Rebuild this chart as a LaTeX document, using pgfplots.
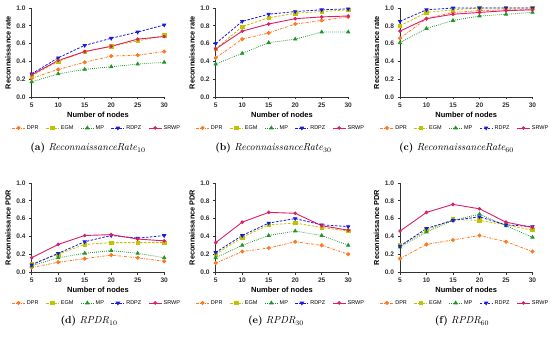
\documentclass[border=0pt]{standalone}
\usepackage{pgfplots}
\pgfplotsset{compat=1.18}
\usepackage{pgfplotstable}
\usepackage{fontspec}
\newfontfamily\arialf{Liberation Sans}
\definecolor{dprc}{RGB}{255,120,30}
\definecolor{egmc}{RGB}{192,196,0}
\definecolor{mpc}{RGB}{30,150,40}
\definecolor{rdpzc}{RGB}{25,25,230}
\definecolor{srwpc}{RGB}{222,28,105}
\definecolor{axc}{RGB}{50,50,50}

\pgfplotstableread{
x DPR EGM MP RDPZ SRWP
5 0.21 0.24 0.17 0.26 0.25
10 0.31 0.40 0.26 0.44 0.41
15 0.39 0.51 0.31 0.58 0.51
20 0.46 0.57 0.34 0.66 0.57
25 0.47 0.63 0.37 0.73 0.65
30 0.51 0.69 0.39 0.81 0.68
}\tA
\pgfplotstableread{
x DPR EGM MP RDPZ SRWP
5 0.44 0.54 0.37 0.60 0.54
10 0.65 0.79 0.49 0.85 0.74
15 0.72 0.89 0.61 0.93 0.82
20 0.82 0.94 0.65 0.96 0.88
25 0.86 0.96 0.73 0.98 0.90
30 0.90 0.98 0.73 0.99 0.91
}\tB
\pgfplotstableread{
x DPR EGM MP RDPZ SRWP
5 0.66 0.80 0.61 0.85 0.74
10 0.88 0.95 0.77 0.98 0.88
15 0.95 0.98 0.86 1.00 0.93
20 0.97 1.00 0.91 1.00 0.95
25 0.98 1.00 0.93 1.00 0.97
30 0.98 1.00 0.95 1.00 0.98
}\tC
\pgfplotstableread{
x DPR EGM MP RDPZ SRWP
5 0.05 0.09 0.07 0.08 0.16
10 0.11 0.20 0.16 0.21 0.31
15 0.15 0.31 0.21 0.34 0.41
20 0.19 0.33 0.24 0.41 0.42
25 0.16 0.33 0.21 0.38 0.37
30 0.12 0.33 0.16 0.41 0.35
}\tD
\pgfplotstableread{
x DPR EGM MP RDPZ SRWP
5 0.10 0.20 0.16 0.22 0.33
10 0.23 0.39 0.30 0.41 0.56
15 0.27 0.53 0.41 0.55 0.67
20 0.34 0.55 0.46 0.60 0.66
25 0.30 0.50 0.41 0.53 0.52
30 0.20 0.46 0.30 0.51 0.47
}\tE
\pgfplotstableread{
x DPR EGM MP RDPZ SRWP
5 0.15 0.30 0.28 0.29 0.46
10 0.31 0.47 0.45 0.49 0.67
15 0.36 0.59 0.58 0.58 0.76
20 0.41 0.58 0.65 0.62 0.71
25 0.34 0.53 0.52 0.53 0.56
30 0.23 0.47 0.39 0.51 0.50
}\tF

\pgfplotsset{
  panel/.style={
    width=132.5pt, height=89pt, scale only axis,
    xmin=5, xmax=30, ymin=0, ymax=1,
    axis x line*=bottom, axis y line*=left,
    axis line style={axc, line width=0.9pt},
    tick style={axc, line width=0.8pt},
    tick align=outside, major tick length=2.5pt,
    xtick={5,10,15,20,25,30}, ytick={0,0.2,0.4,0.6,0.8,1.0},
    /pgf/number format/assume math mode=true,
    yticklabel style={/pgf/number format/.cd, fixed, fixed zerofill, precision=1},
    ticklabel style={font=\arialf\bfseries\fontsize{6.6}{7.5}\selectfont, text=axc},
    xticklabel style={yshift=0.5pt},
    xlabel={Number of nodes},
    xlabel style={font=\arialf\bfseries\fontsize{7.5}{8.5}\selectfont, at={(axis description cs:0.5,-0.2)}, anchor=center},
    ylabel style={font=\arialf\bfseries\fontsize{7.3}{8.5}\selectfont, at={(axis description cs:-0.178,0.5)}, anchor=center},
    legend style={at={(axis description cs:0.49,-0.348)}, anchor=center, draw=none, fill=none,
      legend columns=5, font=\arialf\fontsize{5.5}{6.5}\selectfont,
      /tikz/every even column/.append style={column sep=5.5pt},
      inner sep=0pt, nodes={inner sep=1.5pt}},
    legend image code/.code={\draw[mark repeat=2,mark phase=2] plot coordinates {(0pt,0pt)(6.5pt,0pt)(13pt,0pt)};},
    clip=false,
  },
  dpr/.style={color=dprc, line width=0.8pt, dash pattern=on 2.5pt off 1.2pt on 0.6pt off 1.2pt, mark=*, mark size=1.6pt, mark options={solid}},
  egm/.style={color=egmc, line width=0.8pt, dash pattern=on 2.5pt off 1.5pt, mark=square*, mark size=1.7pt, mark options={solid}},
  mp/.style={color=mpc, line width=0.8pt, dash pattern=on 0.8pt off 1.2pt, mark=triangle*, mark size=1.8pt, mark options={solid}},
  rdpz/.style={color=rdpzc, line width=0.8pt, dash pattern=on 2.5pt off 1.5pt, mark=triangle*, mark size=1.8pt, mark options={solid, rotate=180}},
  srwp/.style={color=srwpc, line width=0.9pt, mark=*, mark size=1.3pt},
}

\newcommand{\series}[1]{%
  \addplot[dpr] table[x=x,y=DPR] {#1};
  \addplot[egm] table[x=x,y=EGM] {#1};
  \addplot[mp] table[x=x,y=MP] {#1};
  \addplot[rdpz] table[x=x,y=RDPZ] {#1};
  \addplot[srwp] table[x=x,y=SRWP] {#1};
  \legend{DPR,EGM,MP,RDPZ,SRWP}
}

\begin{document}
\begin{tikzpicture}
\begin{axis}[panel, at={(31.7pt,241pt)}, anchor=south west, ylabel={Reconnaissance rate}]
\series{\tA}
\end{axis}
\begin{axis}[panel, at={(215.7pt,241pt)}, anchor=south west, ylabel={Reconnaissance rate}]
\series{\tB}
\end{axis}
\begin{axis}[panel, at={(400pt,241pt)}, anchor=south west, ylabel={Reconnaissance rate}]
\series{\tC}
\end{axis}
\begin{axis}[panel, at={(31.7pt,66pt)}, anchor=south west, ylabel={Reconnaissance PDR}]
\series{\tD}
\end{axis}
\begin{axis}[panel, at={(215.7pt,66pt)}, anchor=south west, ylabel={Reconnaissance PDR}]
\series{\tE}
\end{axis}
\begin{axis}[panel, at={(400pt,66pt)}, anchor=south west, ylabel={Reconnaissance PDR}]
\series{\tF}
\end{axis}
\tikzset{capt/.style={font=\fontsize{10.2}{12}\selectfont}}
\node[capt] at (88pt,190pt) {\textbf{(a)} \textit{ReconnaissanceRate}$_{10}$};
\node[capt] at (273.5pt,190pt) {\textbf{(b)} \textit{ReconnaissanceRate}$_{30}$};
\node[capt] at (456.5pt,190pt) {\textbf{(c)} \textit{ReconnaissanceRate}$_{60}$};
\node[capt] at (89pt,17pt) {\textbf{(d)} \textit{RPDR}$_{10}$};
\node[capt] at (276pt,17pt) {\textbf{(e)} \textit{RPDR}$_{30}$};
\node[capt] at (462pt,17pt) {\textbf{(f)} \textit{RPDR}$_{60}$};
\pgfresetboundingbox
\path (0pt,0pt) rectangle (550pt,338pt);
\end{tikzpicture}
\end{document}
